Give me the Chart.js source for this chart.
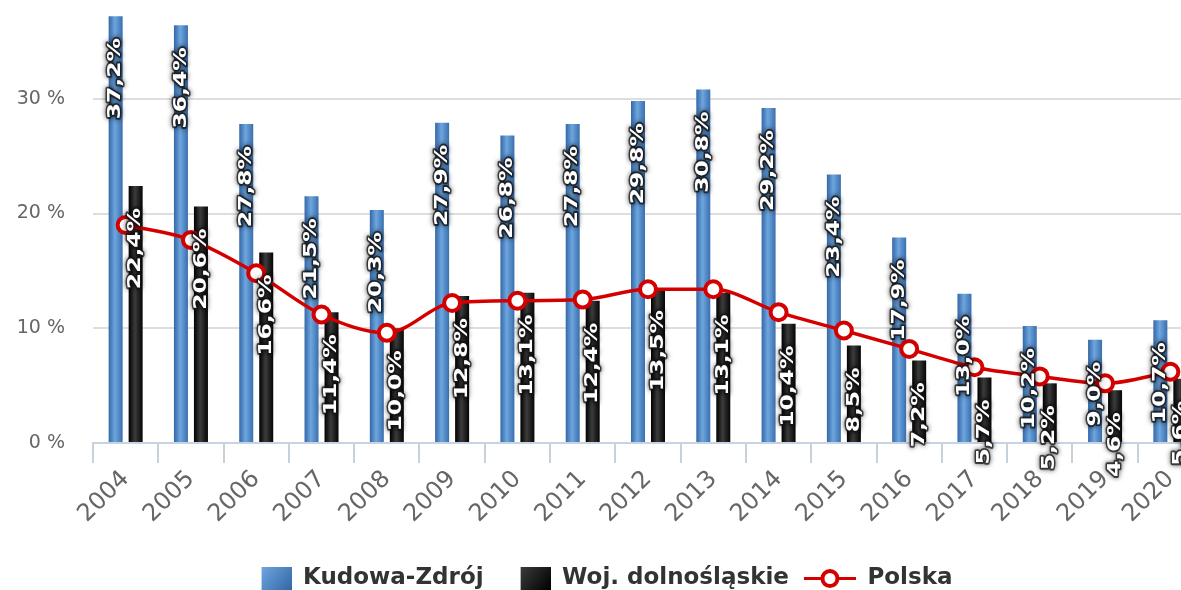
<!DOCTYPE html>
<html lang="pl">
<head>
<meta charset="utf-8">
<title>Stopa bezrobocia</title>
<script src="https://cdn.jsdelivr.net/npm/chart.js@4.4.1/dist/chart.umd.min.js"></script>
<style>
  html, body { margin: 0; padding: 0; width: 1181px; height: 590px; overflow: hidden; background: #fff; }
  #ramka { position: absolute; left: -16px; top: -16px; width: 1231px; height: 616px; }
</style>
</head>
<body>
<div id="ramka"><canvas id="wykres"></canvas></div>
<script>
const lata = ["2004", "2005", "2006", "2007", "2008", "2009", "2010", "2011", "2012",
  "2013", "2014", "2015", "2016", "2017", "2018", "2019", "2020"];
const kudowa = [37.2, 36.4, 27.8, 21.5, 20.3, 27.9, 26.8, 27.8, 29.8, 30.8, 29.2, 23.4, 17.9, 13.0, 10.2, 9.0, 10.7];
const dolnoslaskie = [22.4, 20.6, 16.6, 11.4, 10.0, 12.8, 13.1, 12.4, 13.5, 13.1, 10.4, 8.5, 7.2, 5.7, 5.2, 4.6, 5.6];
const polska = [19.0, 17.7, 14.8, 11.2, 9.6, 12.2, 12.4, 12.5, 13.4, 13.4, 11.4, 9.8, 8.2, 6.6, 5.8, 5.2, 6.2];
const osY = [0, 10, 20, 30];

const catPct = 0.6125;
const barPct = 0.7;
const niebieski = ["#3467a6", "#6ea6de", "#3a6fae"];
const czarny = ["#000000", "#3c3c3c", "#050505"];

Chart.defaults.font.family = '"DejaVu Sans", sans-serif';
Chart.defaults.color = "#666";

const formatuj = (v) => v.toFixed(1).replace(".", ",") + "%";

// gradient w poprzek słupka, liczony z pozycji kategorii na osi X
function gradientSlupka(kolory) {
  return (c) => {
    const xs = c.chart.scales.x;
    if (!xs || !xs.width || c.type !== "data") return kolory[1];
    const slot = xs.width / lata.length * catPct / 2;
    const srodek = xs.getPixelForValue(c.dataIndex) + (c.datasetIndex === 1 ? 0.5 : -0.5) * slot;
    const w = slot * barPct;
    const g = c.chart.ctx.createLinearGradient(srodek - w / 2, 0, srodek + w / 2, 0);
    g.addColorStop(0, kolory[0]);
    g.addColorStop(0.45, kolory[1]);
    g.addColorStop(1, kolory[2]);
    return g;
  };
}

// ikony legendy: przezroczysty margines z lewej robi odstęp między pozycjami
function ikonaKwadrat(kolory) {
  const cv = document.createElement("canvas");
  cv.width = 57; cv.height = 23;
  const ctx = cv.getContext("2d");
  const g = ctx.createLinearGradient(27, 0, 57, 23);
  g.addColorStop(0, kolory[1]);
  g.addColorStop(1, kolory[0]);
  ctx.fillStyle = g;
  ctx.fillRect(27, 0, 30, 23);
  return cv;
}

function ikonaLinia() {
  const cv = document.createElement("canvas");
  cv.width = 57; cv.height = 23;
  const ctx = cv.getContext("2d");
  ctx.strokeStyle = "#d40000";
  ctx.lineWidth = 3;
  ctx.beginPath(); ctx.moveTo(5, 11.5); ctx.lineTo(57, 11.5); ctx.stroke();
  ctx.beginPath(); ctx.arc(31, 11.5, 7.5, 0, Math.PI * 2);
  ctx.fillStyle = "#fff"; ctx.fill();
  ctx.lineWidth = 4; ctx.stroke();
  return cv;
}

// etykiety wartości obrócone o 90 stopni na słupkach
const etykiety = {
  id: "etykiety",
  afterDatasetsDraw(chart) {
    const ctx = chart.ctx;
    [0, 1].forEach((di) => {
      const meta = chart.getDatasetMeta(di);
      meta.data.forEach((bar, i) => {
        const txt = formatuj(chart.data.datasets[di].data[i]);
        ctx.save();
        ctx.translate(bar.x, bar.y + 22);
        ctx.rotate(-Math.PI / 2);
        ctx.scale(1.3, 1);
        ctx.font = 'bold 18px "DejaVu Sans"';
        ctx.textAlign = "right";
        ctx.textBaseline = "middle";
        ctx.lineJoin = "round";
        ctx.shadowColor = "rgba(0,0,0,0.85)";
        ctx.shadowBlur = 5;
        ctx.strokeStyle = "rgba(20,20,20,0.75)";
        ctx.lineWidth = 3;
        ctx.strokeText(txt, 0, 0);
        ctx.shadowBlur = 0;
        ctx.fillStyle = "#fff";
        ctx.fillText(txt, 0, 0);
        ctx.restore();
      });
    });
  }
};

const ikony = [ikonaKwadrat(niebieski), ikonaKwadrat(czarny), ikonaLinia()];

new Chart(document.getElementById("wykres"), {
  type: "bar",
  data: {
    labels: lata,
    datasets: [
      { label: "Kudowa-Zdrój", data: kudowa, backgroundColor: gradientSlupka(niebieski), order: 1,
        categoryPercentage: catPct, barPercentage: barPct },
      { label: "Woj. dolnośląskie", data: dolnoslaskie, backgroundColor: gradientSlupka(czarny), order: 1,
        categoryPercentage: catPct, barPercentage: barPct },
      { type: "line", label: "Polska", data: polska, order: 0, borderColor: "#d40000", borderWidth: 3.5,
        tension: 0.35, cubicInterpolationMode: "monotone", pointRadius: 8, pointBorderWidth: 4,
        pointBackgroundColor: "#fff", pointBorderColor: "#d40000", fill: false }
    ]
  },
  options: {
    responsive: true,
    maintainAspectRatio: false,
    animation: false,
    layout: { autoPadding: false, padding: { left: 0, right: 12, top: 0, bottom: 0 } },
    scales: {
      x: {
        grid: { display: true, drawOnChartArea: false, offset: true, tickLength: 20, color: "#c8d0d8", lineWidth: 2 },
        border: { display: true, color: "#c5d3e2", width: 2 },
        ticks: { maxRotation: 45, minRotation: 45, padding: 2, color: "#666", font: { size: 24 } },
        afterFit: (s) => { s.height = 114; }
      },
      y: {
        min: 0, max: 40,
        grid: { color: "#dedede", lineWidth: 2, drawTicks: false },
        border: { display: false },
        ticks: { stepSize: 10, padding: 28, color: "#666", font: { size: 19 }, callback: (v) => v + " %" },
        afterBuildTicks: (s) => { s.ticks = s.ticks.filter((t) => osY.includes(t.value)); },
        afterFit: (s) => { s.width = 109; s.paddingTop = 0; s.paddingBottom = 0; }
      }
    },
    plugins: {
      tooltip: { enabled: false },
      legend: {
        position: "bottom",
        labels: {
          usePointStyle: true,
          pointStyleWidth: 57,
          padding: 10,
          color: "#333",
          font: { size: 23, weight: "bold" },
          generateLabels: (chart) => chart.data.datasets.map((d, i) => ({
            text: d.label, pointStyle: ikony[i], datasetIndex: i, hidden: false,
            fontColor: "#333", lineWidth: 0, strokeStyle: "transparent"
          }))
        }
      }
    }
  },
  plugins: [etykiety]
});
</script>
</body>
</html>
